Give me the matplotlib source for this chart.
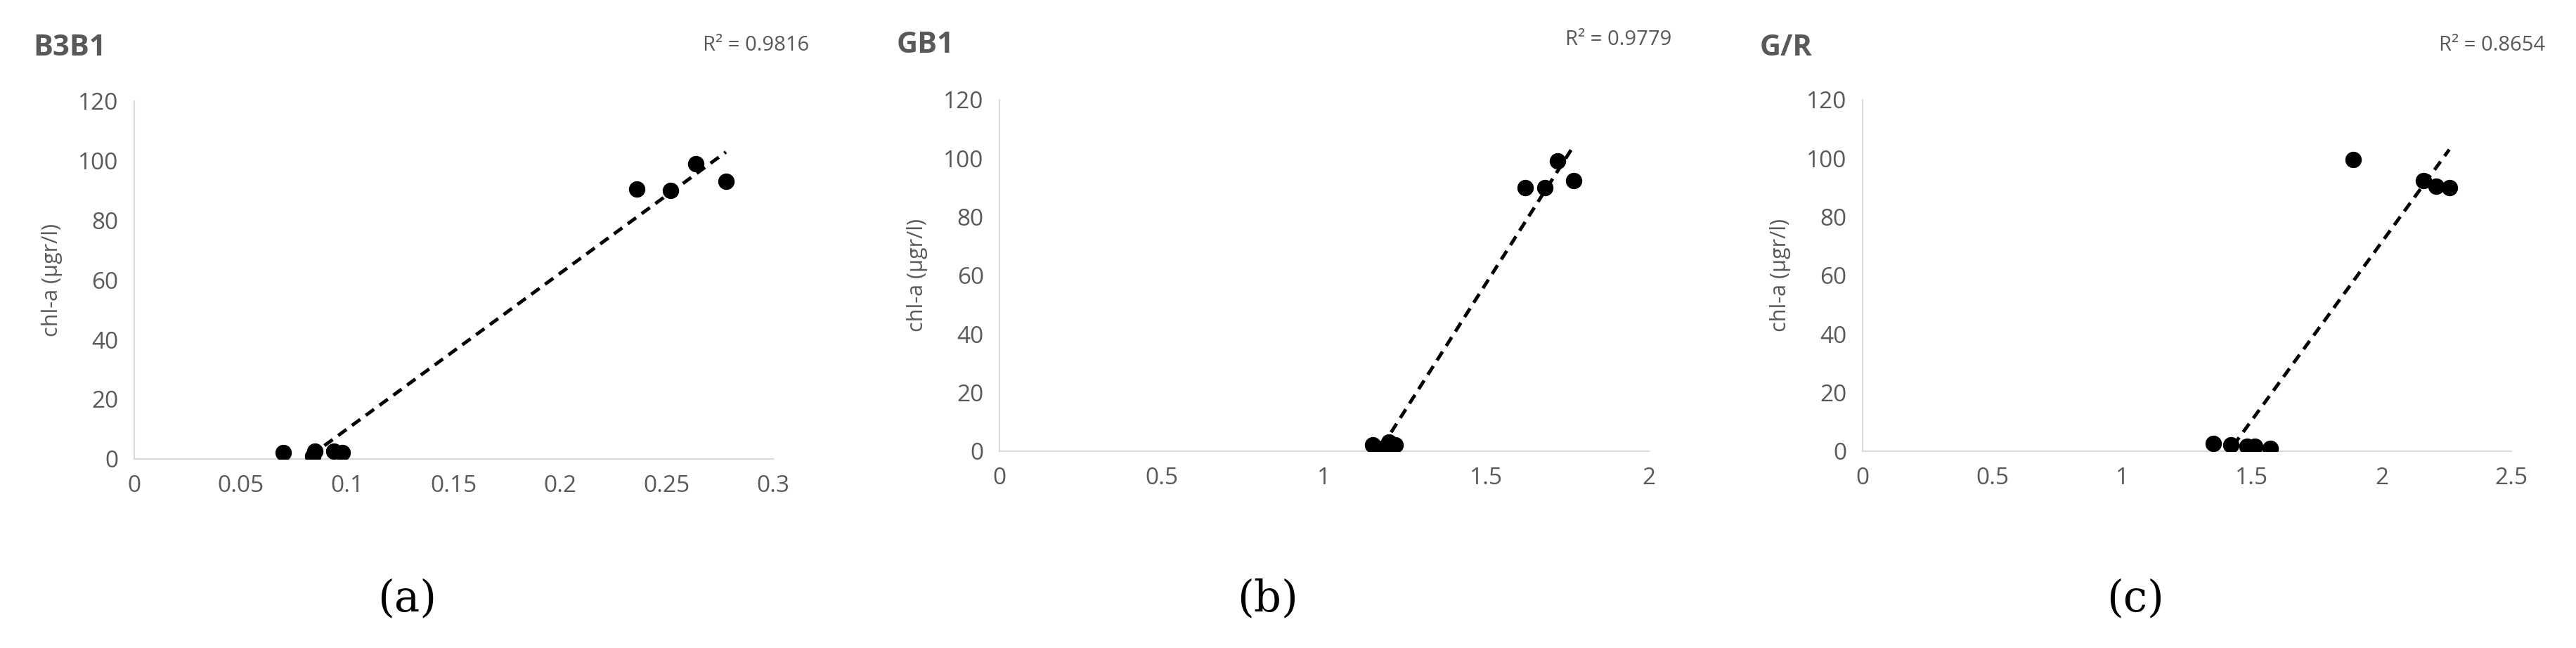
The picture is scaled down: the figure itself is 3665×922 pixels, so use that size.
import numpy as np
import matplotlib.pyplot as plt

# --- data ---
b3b1_x = [0.070, 0.084, 0.085, 0.094, 0.098, 0.236, 0.252, 0.264, 0.278]
b3b1_y = [2, 1, 2.5, 2.5, 2, 90.5, 90, 99, 93]
gb1_x = [1.15, 1.18, 1.20, 1.22, 1.62, 1.68, 1.72, 1.77]
gb1_y = [2, 1, 3, 2, 90, 90, 99, 92.5]
gr_x = [1.35, 1.42, 1.48, 1.51, 1.57, 1.89, 2.16, 2.21, 2.26]
gr_y = [2.5, 2, 1.5, 1.5, 1, 99.5, 92.5, 90.5, 90]

titles = ['B3B1', 'GB1', 'G/R']
r2_labels = ['R² = 0.9816', 'R² = 0.9779', 'R² = 0.8654']
captions = ['(a)', '(b)', '(c)']
x_ticks = [[0, 0.05, 0.1, 0.15, 0.2, 0.25, 0.3], [0, 0.5, 1, 1.5, 2], [0, 0.5, 1, 1.5, 2, 2.5]]
x_tick_labels = [['0', '0.05', '0.1', '0.15', '0.2', '0.25', '0.3'],
                 ['0', '0.5', '1', '1.5', '2'],
                 ['0', '0.5', '1', '1.5', '2', '2.5']]
y_ticks = [0, 20, 40, 60, 80, 100, 120]

series = [(b3b1_x, b3b1_y), (gb1_x, gb1_y), (gr_x, gr_y)]

# --- layout (figure fractions) ---
axes_boxes = [[0.052, 0.292, 0.248, 0.552], [0.388, 0.304, 0.252, 0.542], [0.723, 0.304, 0.252, 0.542]]
title_pos = [(0.013, 0.926), (0.348, 0.93), (0.683, 0.926)]
r2_pos = [(0.314, 0.93), (0.649, 0.939), (0.988, 0.93)]
caption_x = [0.158, 0.492, 0.829]

GRAY = '#595959'
plt.rcParams['font.family'] = ['Open Sans', 'DejaVu Sans']

fig = plt.figure(figsize=(36.65, 9.22), dpi=100)

for i, (xs, ys) in enumerate(series):
    ax = fig.add_axes(axes_boxes[i])
    ax.scatter(xs, ys, s=250, color='black', zorder=3)

    # linear trendline over the data range
    slope, intercept = np.polyfit(xs, ys, 1)
    tx = np.array([min(xs), max(xs)])
    ax.plot(tx, slope * tx + intercept, 'k--', linewidth=3.5, dashes=(3, 2))

    ax.set_xlim(x_ticks[i][0], x_ticks[i][-1])
    ax.set_ylim(0, 120)
    ax.set_xticks(x_ticks[i], x_tick_labels[i])
    ax.set_yticks(y_ticks)
    ax.tick_params(length=0, labelsize=24, labelcolor=GRAY, pad=16)
    for side in ['top', 'right']:
        ax.spines[side].set_visible(False)
    for side in ['left', 'bottom']:
        ax.spines[side].set_color('#d9d9d9')
        ax.spines[side].set_linewidth(1.5)
    ax.set_ylabel('chl-a (µgr/l)', fontsize=22, color=GRAY, labelpad=16)

    fig.text(title_pos[i][0], title_pos[i][1], titles[i], fontsize=30, fontweight='bold',
             color=GRAY, ha='left', va='center')
    fig.text(r2_pos[i][0], r2_pos[i][1], r2_labels[i], fontsize=21, color=GRAY,
             ha='right', va='center')
    fig.text(caption_x[i], 0.076, captions[i], fontsize=44, family='DejaVu Serif',
             ha='center', va='center')

fig.savefig('out.png', dpi=100)
